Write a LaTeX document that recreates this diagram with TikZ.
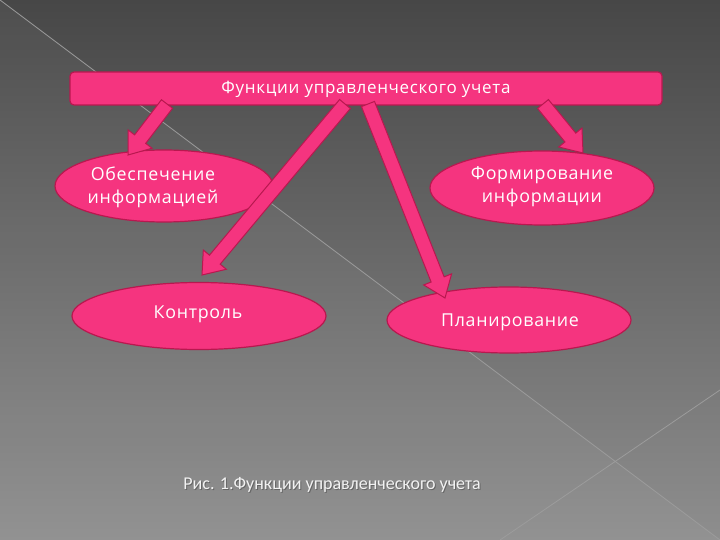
\documentclass[tikz,border=0pt]{standalone}
\usepackage{fontspec}
\setmainfont{Open Sans}
\newfontfamily\capfont{Carlito}
\newfontfamily\boxfont[LetterSpace=4]{Open Sans}
\usetikzlibrary{calc,shapes.geometric}
\definecolor{pinkf}{HTML}{F5347F}
\definecolor{pinkd}{HTML}{B8184F}
\definecolor{bgtop}{HTML}{474747}
\definecolor{bgbot}{HTML}{8E8E8E}
\definecolor{rule}{HTML}{9C9C9C}
\tikzset{
  ell/.style={ellipse, fill=pinkf, draw=pinkd, line width=1.2pt, inner sep=0pt},
  topbox/.style={rectangle, rounded corners=4pt, fill=pinkf, draw=pinkd, line width=1.2pt, inner sep=0pt},
  txt/.style={text=white, align=center, font=\boxfont\fontsize{17.8}{23}\selectfont},
  blockarrow/.style={fill=pinkf, draw=pinkd, line width=1pt, line join=miter},
}
\newcommand\blockarr[2]{%
  \coordinate (hb) at ($(#2)!20pt!(#1)$);
  \draw[blockarrow] ($(#1)!7pt!90:(#2)$) -- ($(hb)!7pt!-90:(#1)$) -- ($(hb)!15pt!-90:(#1)$) -- (#2)
     -- ($(hb)!15pt!90:(#1)$) -- ($(hb)!7pt!90:(#1)$) -- ($(#1)!7pt!-90:(#2)$) -- cycle;
}
\begin{document}
\begin{tikzpicture}[x=1pt,y=-1pt]
\useasboundingbox (0,0) rectangle (720,540);
% background
\fill[top color=bgtop, bottom color=bgbot] (0,0) rectangle (720,540);
\fill[white, opacity=0.04] (0,0) -- (720,540) -- (0,540) -- cycle;
\draw[rule, line width=0.8pt] (0,0) -- (720,540);
\draw[rule, line width=0.8pt] (720,390) -- (500,540);

% top box
\node[topbox, minimum width=592pt, minimum height=33pt] (top) at (366,88.5) {};
\node[text=white, font=\boxfont\fontsize{17}{20}\selectfont] (toplbl) at (366,89) {Функции управленческого учета};

% ellipses
\node[ell, minimum width=218pt, minimum height=72pt] (e1) at (164,186) {};
\node[txt] (l1) at (153,187) {Обеспечение\\информацией};
\node[ell, minimum width=224pt, minimum height=74pt] (e2) at (542,188) {};
\node[txt] (l2) at (542,187) {Формирование\\информации};
\node[ell, minimum width=254pt, minimum height=67pt] (e3) at (199,316) {};
\node[txt] (l3) at (198,314) {Контроль};
\node[ell, minimum width=244pt, minimum height=66pt] (e4) at (509,320) {};
\node[txt] (l4) at (510,322) {Планирование};

% arrow end points
\coordinate (t1) at (167,104);
\coordinate (p1) at (128,155);
\coordinate (t2) at (345,104);
\coordinate (p2) at (202,275);
\coordinate (t3) at (368,104);
\coordinate (p3) at (445,298);
\coordinate (t4) at (543,104);
\coordinate (p4) at (583,153);
\blockarr{t1}{p1}
\blockarr{t2}{p2}
\blockarr{t3}{p3}
\blockarr{t4}{p4}

% caption
\node[text=black!70, opacity=0.6, font=\capfont\fontsize{18}{21}\selectfont] at (333,486) {Рис. 1.Функции управленческого учета};
\node[text=white!95!black, font=\capfont\fontsize{18}{21}\selectfont] (cap) at (332,485) {Рис. 1.Функции управленческого учета};
\end{tikzpicture}
\end{document}
